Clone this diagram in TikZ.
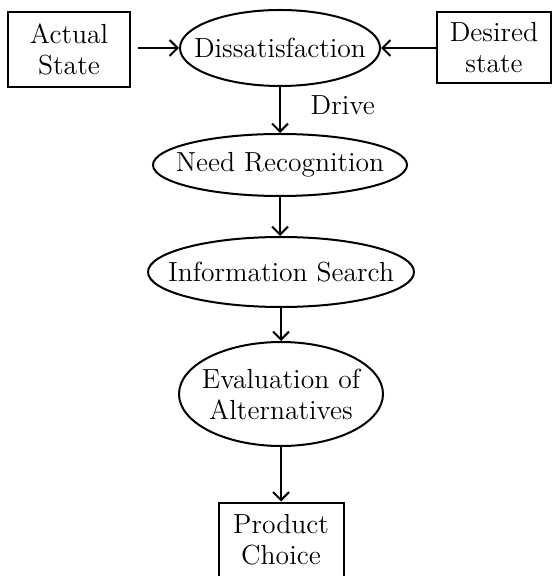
\documentclass[tikz,border=0pt]{standalone}
\usepackage{tikz}
\usetikzlibrary{shapes.geometric,positioning,arrows.meta}
\tikzset{
    state-box/.style = {draw, line width=1pt, rectangle, align=center, inner sep=0pt},
    stage-ellipse/.style = {draw, line width=1pt, ellipse, inner sep=0pt, label={[align=center]center:#1}},
    flow-arrow/.style = {-{Straight Barb[length=4pt, width=8pt]}, line width=1pt},
}

\begin{document}
\begin{tikzpicture}[x=0.5pt, y=-0.5pt, font=\fontsize{13.8}{15.5}\selectfont]
\useasboundingbox (0,0) rectangle (552,576);
\node [state-box, minimum width=61pt, minimum height=37.5pt] (actual) at (69,49.5) {Actual\\State};
\node [state-box, minimum width=57pt, minimum height=35.5pt] (desired) at (494,47.5) {Desired\\state};
\node [stage-ellipse={Dissatisfaction}, minimum width=100pt, minimum height=38pt] (dissat) at (280,48) {};
\node [stage-ellipse={Need Recognition}, minimum width=127pt, minimum height=31pt] (need) at (280,165) {};
\node [stage-ellipse={Information Search}, minimum width=133pt, minimum height=35pt] (search) at (281,272) {};
\node [stage-ellipse={Evaluation of\\Alternatives}, minimum width=102pt, minimum height=52pt] (evaluate) at (281,394) {};
\node [state-box, minimum width=62.5pt, minimum height=37.5pt] (choice) at (281,540) {Product\\Choice};

\draw [flow-arrow, shorten <=3.5pt] (actual.east |- dissat) -- (dissat);
\draw [flow-arrow] (desired.west |- dissat) -- (dissat);
\draw [flow-arrow] (dissat) -- node [right=11.5pt, yshift=2.5pt] {Drive} (need);
\draw [flow-arrow] (need) -- (need |- search.north);
\draw [flow-arrow] (search) -- (evaluate);
\draw [flow-arrow] (evaluate) -- (choice);
\end{tikzpicture}
\end{document}
